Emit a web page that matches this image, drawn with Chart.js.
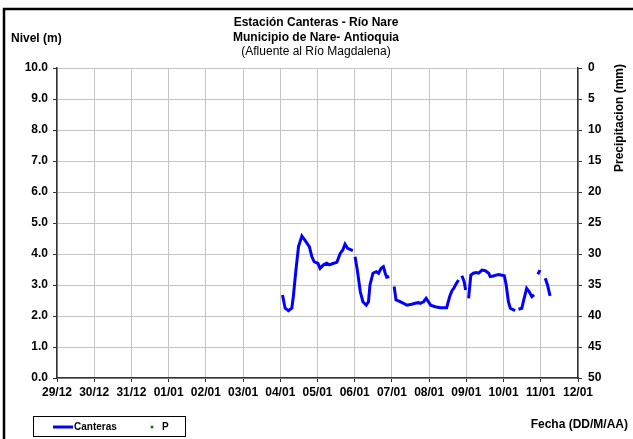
<html>
	<head>
		<meta charset="UTF-8">
		<title> Estacion Canteras </title>
		<script src="https://cdn.jsdelivr.net/npm/chart.js@4.4.1/dist/chart.umd.min.js"></script>
		<style>
			body { margin:0; background:#fff; }
			#box { width:633px; height:439px; }
		</style>
	</head>
	<body>
		<div id="box"><canvas id="lineChart"></canvas></div>

		<script>
			// fechas del eje x (0 = 29/12 ... 14 = 12/01)
			var dateLabels = ['29/12','30/12','31/12','01/01','02/01','03/01','04/01','05/01','06/01','07/01','08/01','09/01','10/01','11/01','12/01'];

			// nivel Canteras, null = hueco sin datos
			var nivelX = [6.06,6.13,6.22,6.31,6.35,6.42,6.49,6.58,6.67,6.78,6.85,6.91,6.96,7.01,7.07,7.16,7.25,7.32,7.43,7.52,7.61,7.68,7.74,7.81,7.95,
				7.98,
				8.01,8.07,8.15,8.22,8.31,8.37,8.41,8.49,8.58,8.64,8.71,8.77,8.82,8.86,8.93,
				9.0,
				9.06,9.11,9.22,9.31,9.40,9.53,9.62,9.71,9.76,9.85,9.92,9.98,10.04,10.16,10.30,10.47,10.55,10.61,10.67,10.73,10.79,
				10.84,
				10.88,10.94,10.98,
				11.02,
				11.06,11.12,11.19,11.26,11.33,11.42,11.51,11.60,11.64,11.72,11.80,11.86,11.93,12.02,12.07,12.13,12.18,12.27,12.31,
				12.36,
				12.40,12.49,12.53,12.62,12.69,12.76,12.82,
				12.87,
				12.92,12.98,
				13.05,
				13.12,13.18,13.25];
			var nivelY = [2.68,2.25,2.17,2.25,2.62,3.48,4.24,4.58,4.43,4.24,3.91,3.75,3.72,3.70,3.54,3.65,3.70,3.65,3.70,3.73,4.02,4.13,4.32,4.18,4.11,
				null,
				3.91,3.48,2.78,2.46,2.35,2.46,3.00,3.38,3.43,3.38,3.54,3.59,3.38,3.25,3.27,
				null,
				2.95,2.52,2.46,2.41,2.35,2.38,2.41,2.43,2.41,2.46,2.57,2.46,2.35,2.30,2.27,2.27,2.62,2.81,2.91,3.05,3.16,
				null,
				3.30,3.11,2.84,
				null,
				2.57,3.32,3.38,3.40,3.38,3.48,3.46,3.38,3.27,3.29,3.32,3.34,3.32,3.30,3.00,2.46,2.25,2.20,2.17,
				null,
				2.22,2.25,2.46,2.89,2.78,2.62,2.68,
				null,
				3.35,3.48,
				null,
				3.22,3.00,2.65];

			// precipitacion P (sin registros en el periodo)
			var precipX = [];
			var precipY = [];

			var nivelData = nivelX.map(function(x, i) { return {x:x, y:nivelY[i]}; });
			var precipData = precipX.map(function(x, i) { return {x:x, y:precipY[i]}; });

			var FONT = 'Liberation Sans, Arial, sans-serif';
			var gridC = '#c4c4c4';
			var axisC = '#333333';

			// textos, leyenda y marco
			var extras = {
				id: 'extras',
				afterDraw: function(chart) {
					var c = chart.ctx;
					c.save();
					c.fillStyle = '#000';
					c.textBaseline = 'middle';
					c.textAlign = 'center';
					c.font = 'bold 12px ' + FONT;
					c.fillText('Estación Canteras - Río Nare', 316, 23);
					c.fillText('Municipio de Nare- Antioquia', 316, 38);
					c.font = '12px ' + FONT;
					c.fillText('(Afluente al Río Magdalena)', 316, 52);

					c.font = 'bold 12px ' + FONT;
					c.textAlign = 'left';
					c.fillText('Nivel (m)', 11, 39);
					c.textAlign = 'right';
					c.fillText('Fecha (DD/M/AA)', 628, 425);

					c.save();
					c.translate(620, 118);
					c.rotate(-Math.PI / 2);
					c.textAlign = 'center';
					c.font = 'bold 12px ' + FONT;
					c.fillText('Precipitacion (mm)', 0, 0);
					c.restore();

					// leyenda
					var ds = chart.data.datasets;
					c.strokeStyle = '#000';
					c.lineWidth = 1;
					c.strokeRect(33.5, 416.5, 152, 20);
					c.strokeStyle = ds[0].borderColor;
					c.lineWidth = 3;
					c.beginPath();
					c.moveTo(53, 427);
					c.lineTo(73, 427);
					c.stroke();
					c.fillStyle = '#000';
					c.textAlign = 'left';
					c.font = 'bold 10px ' + FONT;
					c.fillText(ds[0].label, 74, 427);
					c.fillStyle = ds[1].backgroundColor;
					c.beginPath();
					c.arc(152, 427, 1.5, 0, Math.PI * 2);
					c.fill();
					c.fillStyle = '#000';
					c.fillText(ds[1].label, 162, 427);

					// marco exterior
					c.strokeStyle = '#000';
					c.lineWidth = 2.5;
					c.beginPath();
					c.moveTo(4, 439);
					c.lineTo(4, 9);
					c.lineTo(633, 9);
					c.stroke();
					c.restore();
				}
			};

			var ctxL = document.getElementById('lineChart').getContext('2d');
			var myLineChart = new Chart(ctxL, {
				type: 'line',
				data: {
					datasets: [{
						label: 'Canteras',
						data: nivelData,
						yAxisID: 'y',
						borderColor: '#0000ff',
						backgroundColor: '#0000ff',
						borderWidth: 3,
						pointRadius: 0,
						spanGaps: false,
						tension: 0
					}, {
						label: 'P',
						data: precipData,
						yAxisID: 'y2',
						showLine: false,
						borderColor: '#008000',
						backgroundColor: '#008000',
						pointRadius: 1.5
					}]
				},
				options: {
					responsive: true,
					maintainAspectRatio: false,
					animation: false,
					layout: { padding: { top: 68, left: 0, right: 0, bottom: 0 } },
					plugins: {
						legend: { display: false },
						title: { display: false },
						tooltip: { enabled: false }
					},
					scales: {
						x: {
							type: 'linear',
							min: 0,
							max: 14,
							afterFit: function(s) { s.height = 61; },
							ticks: {
								stepSize: 1,
								autoSkip: false,
								maxRotation: 0,
								padding: 3,
								color: '#000',
								font: { family: FONT, size: 12, weight: 'bold' },
								callback: function(v) { return dateLabels[v]; }
							},
							grid: { color: gridC, tickColor: axisC, tickLength: 4 },
							border: { color: axisC, width: 1.5 }
						},
						y: {
							position: 'left',
							min: 0,
							max: 10,
							afterFit: function(s) { s.width = 57; },
							ticks: {
								stepSize: 1,
								padding: 5,
								color: '#000',
								font: { family: FONT, size: 12, weight: 'bold' },
								callback: function(v) { return v.toFixed(1); }
							},
							grid: { color: gridC, tickColor: axisC, tickLength: 4 },
							border: { color: axisC, width: 1.5 }
						},
						y2: {
							position: 'right',
							min: 0,
							max: 50,
							reverse: true,
							afterFit: function(s) { s.width = 55; },
							ticks: {
								stepSize: 5,
								padding: 6,
								color: '#000',
								font: { family: FONT, size: 12, weight: 'bold' }
							},
							grid: { drawOnChartArea: false, tickColor: axisC, tickLength: 4 },
							border: { color: axisC, width: 1.5 }
						}
					}
				},
				plugins: [extras]
			});
		</script>
	</body>
</html>
